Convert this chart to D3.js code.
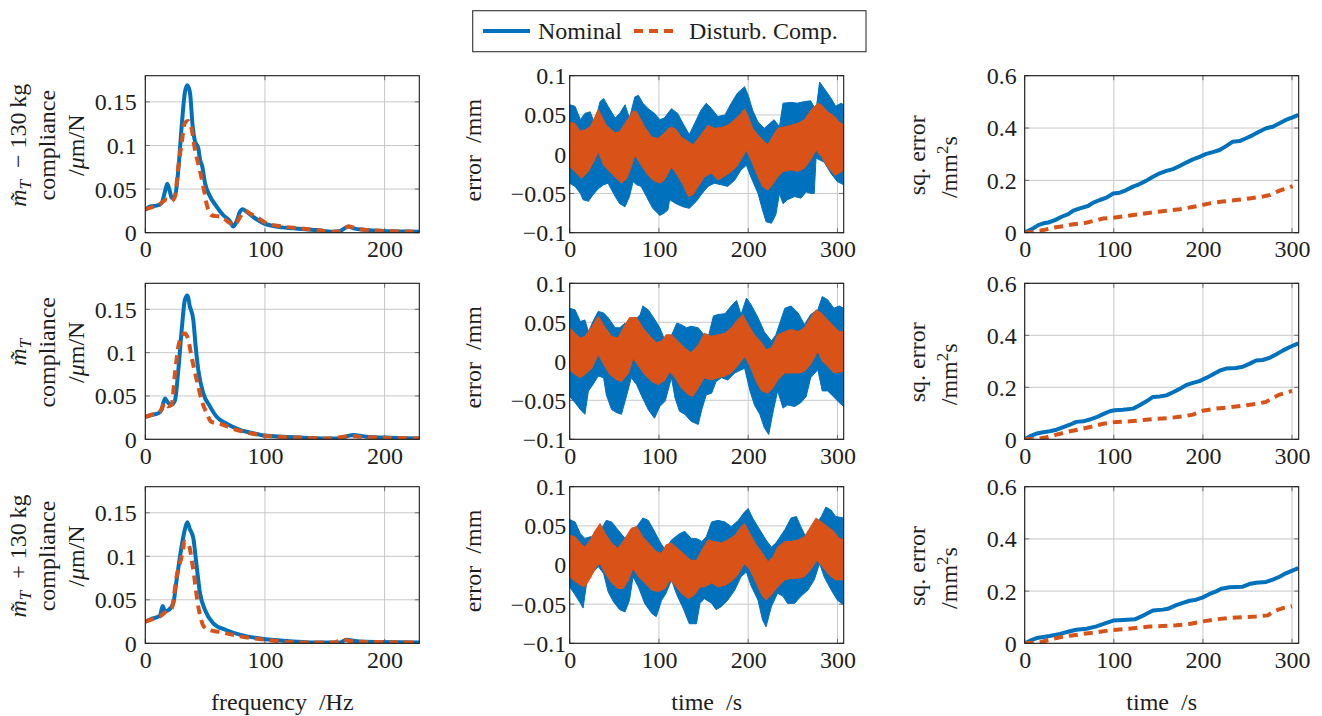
<!DOCTYPE html>
<html>
<head>
<meta charset="utf-8">
<script src="https://cdn.jsdelivr.net/npm/d3@7"></script>
<style>
body { margin: 0; background: #fff; }
</style>
</head>
<body>
<svg id="chart" width="1322" height="716" font-family="Liberation Serif"></svg>
<script>
// ---- data ----
var seriesNames = ['Nominal', 'Disturb. Comp.'];
var rowMass = ['\u2212 130', '', '+ 130'];

// compliance  [frequency Hz, um/N]
var compNom1 = [[0,0.026],[4,0.030],[9.5,0.031],[13.6,0.034],[16.4,0.047],[18.4,0.056],[20.6,0.047],[22,0.040],[24.8,0.042],[27.6,0.072],[30.4,0.122],[33.1,0.161],[35.1,0.169],[37.3,0.161],[39.6,0.122],[41.5,0.105],[44.3,0.097],[45.7,0.084],[47.6,0.076],[49.9,0.057],[54,0.042],[59.6,0.030],[65.2,0.020],[70.8,0.013],[73.5,0.007],[76.3,0.013],[79.1,0.024],[81.3,0.027],[84.7,0.024],[90.3,0.018],[98.6,0.011],[109.7,0.007],[123.7,0.005],[143,0.003],[157,0.001],[162.7,0.002],[169.6,0.007],[173.8,0.005],[185,0.003],[199,0.002],[213,0.0015],[229,0.001]];
var compDc1 = [[0,0.027],[5.3,0.029],[12.3,0.033],[17.8,0.038],[22,0.036],[24.8,0.042],[27.6,0.076],[30.4,0.103],[33.1,0.126],[35.9,0.128],[38.7,0.119],[41.5,0.095],[44.8,0.076],[48.5,0.053],[51.8,0.030],[55.4,0.020],[59.6,0.019],[63.8,0.018],[70.8,0.011],[75,0.009],[79.1,0.018],[83.3,0.025],[87.5,0.022],[93,0.018],[101,0.011],[115,0.007],[129,0.005],[143,0.003],[157,0.001],[165.5,0.003],[169.6,0.007],[179,0.004],[199,0.002],[229,0.001]];
var compNom2 = [[0,0.026],[5.3,0.028],[10.9,0.030],[13.6,0.034],[16.4,0.047],[19.2,0.042],[22,0.040],[24.8,0.045],[27.6,0.080],[30.4,0.126],[33.1,0.161],[35.1,0.166],[37.3,0.153],[40.1,0.138],[42.1,0.107],[44.3,0.080],[48.5,0.053],[54,0.038],[59.6,0.026],[68,0.018],[79.1,0.011],[90.3,0.007],[101.4,0.004],[115,0.003],[129,0.002],[151.5,0.001],[162.7,0.001],[169.6,0.004],[173.8,0.005],[185,0.003],[199,0.002],[229,0.001]];
var compDc2 = [[0,0.026],[6.7,0.029],[12.3,0.032],[16.4,0.042],[19.2,0.038],[22,0.040],[24.8,0.076],[27.6,0.107],[30.4,0.119],[33.1,0.122],[35.9,0.115],[38.7,0.095],[42.9,0.069],[47.1,0.045],[51.3,0.030],[55.4,0.020],[62.4,0.018],[73.5,0.012],[84.7,0.008],[95.8,0.005],[109.7,0.003],[129,0.002],[151.5,0.001],[165.5,0.003],[169.6,0.004],[179,0.003],[229,0.001]];
var compNom3 = [[0,0.025],[5.3,0.028],[12.3,0.032],[14.5,0.043],[16.4,0.037],[19.2,0.038],[23.4,0.046],[26.2,0.073],[30.4,0.112],[33.1,0.131],[35.1,0.139],[37.3,0.131],[40.1,0.121],[42.9,0.089],[45.7,0.058],[50,0.038],[56.8,0.023],[68,0.015],[79,0.010],[93,0.006],[115,0.003],[143,0.001],[162.7,0.001],[168,0.004],[179,0.002],[229,0.001]];
var compDc3 = [[0,0.025],[6.7,0.028],[12.3,0.031],[17.8,0.037],[22,0.040],[26.2,0.077],[30.4,0.100],[33.1,0.117],[35.9,0.115],[39.6,0.089],[44.3,0.042],[49,0.019],[54,0.015],[62.4,0.013],[79,0.008],[101,0.004],[129,0.001],[157,0.001],[165.5,0.004],[174,0.002],[229,0.001]];

// tracking error envelopes  [time s, mm]  (upper / lower edge of the oscillating trace)
var errNomHi1 = [[0,0.063],[6,0.061],[12,0.044],[17,0.052],[23,0.054],[28,0.039],[34,0.067],[38,0.071],[43,0.061],[51,0.046],[56,0.052],[62,0.063],[67,0.046],[73,0.073],[77,0.075],[82,0.065],[88,0.058],[95,0.052],[101,0.044],[106,0.046],[114,0.058],[121,0.052],[127,0.039],[134,0.025],[142,0.044],[147,0.056],[153,0.065],[159,0.058],[166,0.048],[174,0.050],[181,0.065],[188,0.078],[196,0.086],[200,0.075],[205,0.056],[211,0.041],[218,0.033],[224,0.039],[229,0.044],[235,0.035],[239,0.065],[248,0.066],[255,0.065],[263,0.067],[270,0.068],[276,0.056],[280,0.092],[285,0.084],[293,0.071],[298,0.061],[304,0.065],[307,0.063]];
var errNomLo1 = [[0,-0.037],[6,-0.041],[12,-0.050],[15,-0.058],[21,-0.060],[26,-0.052],[32,-0.044],[38,-0.039],[43,-0.037],[51,-0.054],[56,-0.063],[62,-0.067],[67,-0.054],[71,-0.035],[75,-0.039],[80,-0.041],[86,-0.054],[93,-0.069],[101,-0.078],[106,-0.075],[110,-0.071],[112,-0.058],[119,-0.063],[127,-0.067],[134,-0.069],[142,-0.060],[147,-0.052],[155,-0.041],[162,-0.037],[170,-0.039],[177,-0.041],[185,-0.033],[192,-0.020],[198,-0.014],[203,-0.029],[211,-0.050],[216,-0.071],[220,-0.086],[226,-0.088],[231,-0.077],[235,-0.050],[239,-0.063],[244,-0.058],[252,-0.054],[259,-0.056],[265,-0.048],[270,-0.050],[274,-0.050],[276,-0.005],[285,-0.010],[293,-0.025],[300,-0.035],[307,-0.039]];
var errDcHi1 = [[0,0.041],[6,0.039],[12,0.029],[17,0.031],[23,0.035],[32,0.057],[41,0.037],[51,0.027],[56,0.029],[71,0.055],[75,0.054],[84,0.035],[92,0.022],[99,0.020],[106,0.027],[112,0.034],[118,0.033],[125,0.022],[133,0.016],[138,0.012],[144,0.020],[151,0.031],[155,0.037],[162,0.033],[170,0.034],[177,0.037],[185,0.044],[192,0.052],[196,0.058],[200,0.048],[205,0.033],[213,0.022],[218,0.016],[222,0.012],[227,0.022],[233,0.033],[241,0.035],[248,0.037],[255,0.039],[263,0.044],[270,0.056],[278,0.065],[282,0.063],[289,0.054],[297,0.048],[302,0.041],[307,0.037]];
var errDcLo1 = [[0,-0.016],[6,-0.022],[13,-0.031],[21,-0.022],[28,-0.007],[32,0.003],[38,-0.014],[43,-0.020],[51,-0.029],[58,-0.037],[64,-0.031],[69,-0.016],[73,-0.001],[79,-0.012],[86,-0.024],[93,-0.033],[101,-0.037],[106,-0.033],[114,-0.016],[119,-0.024],[127,-0.039],[133,-0.054],[138,-0.052],[144,-0.041],[151,-0.029],[159,-0.024],[166,-0.033],[172,-0.029],[179,-0.024],[187,-0.016],[194,-0.003],[198,0.005],[203,-0.007],[211,-0.029],[216,-0.041],[222,-0.046],[227,-0.039],[233,-0.029],[239,-0.022],[248,-0.020],[255,-0.022],[263,-0.018],[270,-0.007],[276,0.005],[282,-0.003],[289,-0.016],[297,-0.027],[302,-0.024],[307,-0.020]];

var errNomHi2 = [[0,0.068],[6,0.066],[12,0.051],[17,0.053],[21,0.038],[26,0.051],[32,0.064],[38,0.062],[43,0.056],[51,0.043],[56,0.043],[62,0.049],[67,0.043],[73,0.053],[79,0.060],[82,0.071],[88,0.066],[94,0.056],[101,0.043],[107,0.026],[112,0.028],[120,0.049],[125,0.047],[131,0.043],[136,0.045],[144,0.043],[149,0.036],[155,0.030],[161,0.058],[166,0.060],[174,0.061],[181,0.071],[187,0.078],[192,0.060],[198,0.081],[203,0.073],[211,0.056],[218,0.038],[226,0.026],[231,0.034],[241,0.068],[248,0.071],[256,0.062],[263,0.047],[270,0.060],[278,0.066],[283,0.083],[289,0.079],[296,0.068],[302,0.071],[307,0.068]];
var errNomLo2 = [[0,-0.045],[6,-0.053],[12,-0.062],[17,-0.068],[21,-0.038],[26,-0.030],[32,-0.019],[38,-0.021],[41,-0.043],[47,-0.062],[53,-0.066],[58,-0.068],[64,-0.043],[69,-0.021],[75,-0.030],[80,-0.043],[88,-0.062],[95,-0.073],[101,-0.058],[107,-0.051],[114,-0.021],[118,-0.047],[123,-0.064],[129,-0.068],[136,-0.077],[144,-0.081],[148,-0.062],[153,-0.043],[159,-0.041],[164,-0.026],[170,-0.021],[177,-0.024],[185,-0.015],[192,-0.011],[196,-0.009],[202,-0.038],[207,-0.056],[213,-0.068],[218,-0.085],[223,-0.094],[228,-0.064],[233,-0.038],[239,-0.060],[244,-0.056],[252,-0.058],[259,-0.053],[265,-0.045],[270,-0.021],[278,-0.011],[283,-0.038],[289,-0.038],[297,-0.047],[302,-0.053],[307,-0.058]];
var errDcHi2 = [[0,0.043],[6,0.036],[12,0.030],[17,0.032],[25,0.045],[32,0.058],[40,0.043],[47,0.032],[54,0.030],[62,0.047],[67,0.056],[75,0.056],[82,0.043],[90,0.032],[97,0.024],[103,0.026],[108,0.034],[114,0.034],[121,0.026],[129,0.017],[136,0.011],[144,0.021],[151,0.036],[159,0.032],[166,0.034],[174,0.036],[181,0.043],[188,0.053],[194,0.060],[200,0.047],[207,0.034],[215,0.024],[220,0.015],[226,0.017],[233,0.034],[241,0.038],[248,0.041],[256,0.038],[263,0.043],[270,0.056],[276,0.066],[282,0.062],[289,0.053],[296,0.045],[302,0.038],[307,0.038]];
var errDcLo2 = [[0,-0.011],[6,-0.017],[12,-0.021],[17,-0.017],[25,-0.009],[32,0.009],[38,-0.004],[45,-0.017],[53,-0.024],[58,-0.026],[66,-0.015],[71,0.004],[77,-0.006],[84,-0.017],[92,-0.026],[99,-0.030],[107,-0.024],[112,-0.013],[118,-0.021],[125,-0.034],[133,-0.043],[138,-0.045],[144,-0.034],[151,-0.021],[159,-0.024],[166,-0.021],[174,-0.019],[181,-0.015],[188,-0.006],[196,0.006],[202,-0.006],[209,-0.026],[215,-0.038],[222,-0.041],[228,-0.034],[233,-0.024],[241,-0.015],[248,-0.015],[256,-0.015],[263,-0.013],[270,-0.004],[278,0.013],[283,0.000],[289,-0.006],[296,-0.015],[307,-0.013]];

var errNomHi3 = [[0,0.058],[6,0.055],[12,0.040],[17,0.034],[23,0.036],[28,0.036],[34,0.043],[41,0.057],[47,0.055],[54,0.045],[62,0.034],[69,0.045],[75,0.049],[82,0.060],[88,0.057],[94,0.045],[101,0.030],[107,0.019],[114,0.032],[123,0.040],[129,0.043],[136,0.034],[142,0.034],[148,0.030],[153,0.036],[159,0.055],[166,0.057],[174,0.055],[181,0.049],[189,0.057],[196,0.068],[200,0.072],[205,0.060],[213,0.045],[220,0.032],[226,0.023],[231,0.028],[241,0.045],[248,0.060],[254,0.062],[259,0.049],[267,0.030],[274,0.049],[282,0.062],[287,0.074],[293,0.070],[298,0.062],[307,0.060]];
var errNomLo3 = [[0,-0.028],[6,-0.038],[12,-0.049],[15,-0.055],[19,-0.023],[25,-0.011],[32,-0.002],[38,-0.011],[43,-0.034],[49,-0.047],[56,-0.057],[62,-0.060],[67,-0.045],[71,-0.015],[77,-0.028],[84,-0.049],[92,-0.062],[97,-0.066],[103,-0.045],[108,-0.036],[114,-0.019],[120,-0.038],[127,-0.055],[134,-0.075],[142,-0.075],[146,-0.049],[151,-0.043],[159,-0.049],[164,-0.057],[170,-0.053],[177,-0.045],[185,-0.032],[192,-0.015],[198,-0.009],[203,-0.026],[211,-0.045],[216,-0.070],[220,-0.079],[226,-0.053],[233,-0.036],[239,-0.040],[244,-0.049],[252,-0.049],[259,-0.040],[267,-0.032],[274,-0.019],[280,0.002],[285,-0.015],[293,-0.032],[300,-0.045],[307,-0.051]];
var errDcHi3 = [[0,0.038],[6,0.036],[12,0.028],[17,0.023],[23,0.032],[28,0.043],[34,0.053],[40,0.040],[47,0.028],[54,0.021],[62,0.034],[69,0.047],[75,0.049],[82,0.036],[90,0.026],[97,0.017],[103,0.015],[108,0.026],[114,0.028],[121,0.021],[129,0.013],[136,0.006],[142,0.006],[148,0.019],[155,0.032],[162,0.030],[170,0.028],[177,0.032],[185,0.038],[192,0.049],[196,0.053],[202,0.040],[209,0.026],[216,0.015],[222,0.004],[228,0.011],[233,0.023],[241,0.030],[248,0.030],[256,0.032],[263,0.036],[270,0.049],[276,0.060],[282,0.055],[289,0.049],[296,0.043],[302,0.034],[307,0.032]];
var errDcLo3 = [[0,-0.015],[6,-0.021],[12,-0.026],[17,-0.028],[23,-0.017],[30,-0.002],[34,0.002],[40,-0.011],[47,-0.023],[54,-0.030],[60,-0.030],[66,-0.019],[71,-0.004],[77,-0.015],[84,-0.023],[92,-0.032],[99,-0.034],[107,-0.030],[112,-0.019],[118,-0.026],[125,-0.036],[133,-0.043],[140,-0.038],[146,-0.028],[151,-0.028],[159,-0.023],[166,-0.028],[174,-0.026],[181,-0.021],[188,-0.013],[196,0.002],[202,-0.006],[209,-0.023],[215,-0.038],[220,-0.045],[226,-0.038],[233,-0.028],[241,-0.019],[248,-0.017],[256,-0.017],[263,-0.015],[270,-0.006],[277,0.006],[283,-0.002],[291,-0.013],[298,-0.019],[307,-0.019]];

// accumulated squared error  [time s, mm^2 s]
var sqNom1 = [[0,0],[9.7,0.017],[15.3,0.029],[21,0.036],[26.5,0.039],[34,0.048],[41.4,0.061],[48.9,0.071],[54.5,0.084],[62,0.093],[71,0.102],[77,0.115],[84.3,0.125],[91.8,0.134],[99.3,0.150],[106.7,0.153],[114,0.163],[121.6,0.176],[129,0.186],[136.6,0.199],[144,0.214],[151.5,0.227],[159,0.236],[166.4,0.243],[173.9,0.255],[181.3,0.268],[188.8,0.280],[196.3,0.290],[203.7,0.301],[211.2,0.308],[218.7,0.316],[226,0.331],[233.6,0.348],[241,0.350],[248.5,0.361],[256,0.373],[263,0.386],[271,0.399],[278.4,0.405],[286,0.418],[293,0.431],[300.7,0.441],[307,0.450]];
var sqDc1 = [[0,0],[9.7,0.003],[21,0.010],[32,0.019],[43,0.025],[54.5,0.032],[66,0.036],[77,0.045],[88,0.054],[99,0.057],[114,0.064],[129,0.071],[144,0.078],[159,0.084],[174,0.090],[185,0.096],[196,0.103],[207.5,0.112],[222,0.119],[237,0.125],[252,0.131],[267,0.138],[275,0.144],[286,0.161],[297,0.173],[300.7,0.178]];
var sqNom2 = [[0,0],[6,0.012],[13.4,0.022],[20.9,0.027],[28,0.031],[35.8,0.037],[43.3,0.047],[50.7,0.056],[58,0.067],[65.7,0.069],[73,0.076],[80.6,0.085],[88,0.097],[95.5,0.108],[101,0.112],[110.4,0.114],[121.6,0.118],[129,0.131],[136.6,0.146],[144,0.163],[151.5,0.165],[159,0.169],[166.4,0.181],[174,0.194],[181,0.208],[188.8,0.217],[196,0.224],[203.7,0.236],[211,0.249],[218.7,0.264],[226,0.272],[237,0.274],[244.8,0.279],[252,0.290],[259.7,0.303],[267,0.305],[274.6,0.313],[282,0.326],[289.6,0.341],[297,0.354],[307,0.369]];
var sqDc2 = [[0,0],[13.4,0.001],[24.6,0.008],[35.8,0.018],[47,0.028],[58,0.036],[73,0.047],[88,0.060],[103,0.067],[118,0.069],[133,0.074],[147.8,0.079],[162.7,0.082],[177.6,0.088],[188.8,0.095],[200,0.110],[214.9,0.118],[230,0.123],[244.8,0.129],[259.7,0.136],[270.9,0.144],[278.4,0.159],[286,0.172],[300,0.186]];
var sqNom3 = [[0,0],[6,0.010],[13.4,0.020],[20.9,0.024],[28,0.028],[39.6,0.036],[50.7,0.046],[58,0.052],[69.4,0.056],[80.6,0.065],[91.8,0.078],[99.3,0.087],[110.4,0.089],[123.5,0.092],[131,0.103],[138.4,0.116],[144,0.126],[155,0.129],[160.8,0.132],[170,0.146],[177.6,0.155],[185,0.163],[192.5,0.167],[200,0.176],[207.5,0.189],[214.9,0.199],[220.5,0.209],[230,0.215],[244.8,0.217],[252,0.227],[259.7,0.232],[270.9,0.235],[278.4,0.244],[286,0.255],[293,0.268],[307,0.288]];
var sqDc3 = [[0,0],[17,0.003],[28,0.014],[39.6,0.023],[50.7,0.029],[65.7,0.036],[80.6,0.042],[95.5,0.050],[110.4,0.054],[125,0.059],[140,0.064],[155,0.066],[170,0.069],[185,0.074],[200,0.084],[214.9,0.092],[230,0.097],[244.8,0.100],[259.7,0.103],[272.8,0.107],[280,0.123],[289.6,0.135],[300,0.142]];

var compNom = [compNom1, compNom2, compNom3], compDc = [compDc1, compDc2, compDc3];
var errNom = [[errNomHi1, errNomLo1], [errNomHi2, errNomLo2], [errNomHi3, errNomLo3]];
var errDc = [[errDcHi1, errDcLo1], [errDcHi2, errDcLo2], [errDcHi3, errDcLo3]];
var sqNom = [sqNom1, sqNom2, sqNom3], sqDc = [sqDc1, sqDc2, sqDc3];

var freqTicks = [0, 100, 200], compTicks = [0, 0.05, 0.1, 0.15];
var timeTicks = [0, 100, 200, 300], errTicks = [-0.1, -0.05, 0, 0.05, 0.1], sqTicks = [0, 0.2, 0.4, 0.6];

// ---- layout ----
var BLUE = '#0072bd', ORANGE = '#d95319';
var FONT = 'Liberation Serif';
var FS = 24;
var svg = d3.select('#chart');
var plotW = 274;
var rowTop = [75.7, 283.3, 486.7], rowH = [157, 156, 156.6];
var cols = [
    {left: 145.3, xDom: [0, 229], xTicks: freqTicks, yDom: [0, 0.18], yTicks: compTicks, pad: 8.5},
    {left: 569.7, xDom: [0, 307], xTicks: timeTicks, yDom: [-0.1, 0.1], yTicks: errTicks, pad: 3.5},
    {left: 1024.7, xDom: [0, 307.5], xTicks: timeTicks, yDom: [0, 0.6], yTicks: sqTicks, pad: 8}
];

var fmt = function(v){ return (v < 0 ? '\u2212' : '') + String(Math.abs(v)); };

function panel(ci, ri, draw){
    var c = cols[ci];
    var top = rowTop[ri], h = rowH[ri];
    var x = d3.scaleLinear().domain(c.xDom).range([0, plotW]);
    var y = d3.scaleLinear().domain(c.yDom).range([h, 0]);
    var g = svg.append('g').attr('transform', 'translate(' + c.left + ',' + top + ')');
    var id = 'clip' + ci + ri;
    g.append('clipPath').attr('id', id).append('rect').attr('width', plotW).attr('height', h);

    // grid
    var grid = g.append('g');
    grid.selectAll('.gx').data(c.xTicks).enter().append('line')
        .attr('x1', function(d){ return x(d); }).attr('x2', function(d){ return x(d); })
        .attr('y1', 0).attr('y2', h).attr('stroke', '#c8c8c8').attr('stroke-width', 1);
    grid.selectAll('.gy').data(c.yTicks).enter().append('line')
        .attr('y1', function(d){ return y(d); }).attr('y2', function(d){ return y(d); })
        .attr('x1', 0).attr('x2', plotW).attr('stroke', '#c8c8c8').attr('stroke-width', 1);
    // inner tick marks on all four sides
    var tk = 4.5;
    c.xTicks.forEach(function(d){
        grid.append('line').attr('x1', x(d)).attr('x2', x(d)).attr('y1', h).attr('y2', h - tk).attr('stroke', '#6e6e6e');
        grid.append('line').attr('x1', x(d)).attr('x2', x(d)).attr('y1', 0).attr('y2', tk).attr('stroke', '#6e6e6e');
    });
    c.yTicks.forEach(function(d){
        grid.append('line').attr('y1', y(d)).attr('y2', y(d)).attr('x1', 0).attr('x2', tk).attr('stroke', '#6e6e6e');
        grid.append('line').attr('y1', y(d)).attr('y2', y(d)).attr('x1', plotW).attr('x2', plotW - tk).attr('stroke', '#6e6e6e');
    });

    var data = g.append('g').attr('clip-path', 'url(#' + id + ')');
    draw(data, x, y);

    g.append('rect').attr('width', plotW).attr('height', h)
        .attr('fill', 'none').attr('stroke', '#1a1a1a').attr('stroke-width', 1.1);

    // axes (labels only)
    var ax = g.append('g').attr('transform', 'translate(0,' + h + ')')
        .call(d3.axisBottom(x).tickValues(c.xTicks).tickFormat(fmt).tickSize(0).tickPadding(7.5));
    var ay = g.append('g')
        .call(d3.axisLeft(y).tickValues(c.yTicks).tickFormat(fmt).tickSize(0).tickPadding(c.pad));
    [ax, ay].forEach(function(a){
        a.attr('font-family', FONT).attr('font-size', FS);
        a.select('.domain').remove();
        a.selectAll('text').attr('fill', '#1e1e1e');
    });
    ay.selectAll('text').attr('dy', '0.33em');
    return g;
}

var compLine = function(x, y){
    return d3.line().x(function(d){ return x(d[0]); }).y(function(d){ return y(d[1]); }).curve(d3.curveMonotoneX);
};
var sqLine = function(x, y){
    return d3.line().x(function(d){ return x(d[0]); }).y(function(d){ return y(d[1]); });
};
function band(sel, x, y, hi, lo, color){
    var pts = hi.concat(lo.slice().reverse());
    var ln = d3.line().x(function(d){ return x(d[0]); }).y(function(d){ return y(d[1]); });
    sel.append('path').attr('d', ln(pts) + 'Z').attr('fill', color).attr('stroke', color)
        .attr('stroke-width', 1).attr('stroke-linejoin', 'miter');
}

for (var r = 0; r < 3; r++) {
    (function(r){
        panel(0, r, function(s, x, y){
            s.append('path').attr('d', compLine(x, y)(compNom[r])).attr('fill', 'none')
                .attr('stroke', BLUE).attr('stroke-width', 4).attr('stroke-linejoin', 'round');
            s.append('path').attr('d', compLine(x, y)(compDc[r])).attr('fill', 'none')
                .attr('stroke', ORANGE).attr('stroke-width', 4).attr('stroke-dasharray', '9,6');
        });
        panel(1, r, function(s, x, y){
            band(s, x, y, errNom[r][0], errNom[r][1], BLUE);
            band(s, x, y, errDc[r][0], errDc[r][1], ORANGE);
        });
        panel(2, r, function(s, x, y){
            s.append('path').attr('d', sqLine(x, y)(sqNom[r])).attr('fill', 'none')
                .attr('stroke', BLUE).attr('stroke-width', 4).attr('stroke-linejoin', 'round');
            s.append('path').attr('d', sqLine(x, y)(sqDc[r])).attr('fill', 'none')
                .attr('stroke', ORANGE).attr('stroke-width', 4).attr('stroke-dasharray', '9,6');
        });
    })(r);
}

// ---- y labels (rotated) ----
function vText(xb, yc, parts){
    var t = svg.append('text').attr('transform', 'translate(' + xb + ',' + yc + ') rotate(-90)')
        .attr('text-anchor', 'middle').attr('font-size', FS).attr('font-family', FONT).attr('fill', '#1e1e1e');
    parts.forEach(function(p){
        var ts = t.append('tspan').text(p.t);
        if (p.it) ts.attr('font-style', 'italic');
        if (p.sub) ts.attr('font-size', 17).attr('dy', 5);
        if (p.up) ts.attr('font-size', 17).attr('dy', -9);
        if (p.back) ts.attr('dy', p.back);
    });
    return t;
}
for (var i = 0; i < 3; i++) {
    var cy = rowTop[i] + rowH[i] / 2;
    var first = [{t: 'm\u0303', it: true}, {t: 'T', it: true, sub: true}];
    if (rowMass[i]) first.push({t: '\u2002' + rowMass[i] + '\u2009kg', back: -5});
    vText(26, cy - 9, first);
    vText(55, cy - 9, [{t: 'compliance'}]);
    vText(84, cy - 9, [{t: '/'}, {t: '\u03bc', it: true}, {t: 'm/N'}]);
    vText(481, cy - 4, [{t: 'error\u2002/mm'}]);
    vText(925, cy + 1, [{t: 'sq. error'}]);
    vText(957, cy + 13, [{t: '/mm'}, {t: '2', up: true}, {t: 's', back: 9}]);
}

// ---- x labels ----
var xLabels = ['frequency\u2002/Hz', 'time\u2002/s', 'time\u2002/s'];
xLabels.forEach(function(l, i){
    svg.append('text').attr('x', cols[i].left + plotW / 2).attr('y', 710)
        .attr('text-anchor', 'middle').attr('font-size', FS).attr('font-family', FONT)
        .attr('fill', '#1e1e1e').text(l);
});

// ---- legend ----
var lg = svg.append('g');
lg.append('rect').attr('x', 472.7).attr('y', 10.7).attr('width', 393.3).attr('height', 41)
    .attr('fill', '#fff').attr('stroke', '#333').attr('stroke-width', 1.1);
lg.append('line').attr('x1', 483).attr('x2', 530).attr('y1', 31).attr('y2', 31)
    .attr('stroke', BLUE).attr('stroke-width', 4);
lg.append('text').attr('x', 538).attr('y', 38.5).attr('font-size', FS).attr('font-family', FONT)
    .attr('fill', '#1e1e1e').text(seriesNames[0]);
lg.append('line').attr('x1', 634).attr('x2', 677).attr('y1', 31).attr('y2', 31)
    .attr('stroke', ORANGE).attr('stroke-width', 4).attr('stroke-dasharray', '9,6');
lg.append('text').attr('x', 689).attr('y', 38.5).attr('font-size', FS).attr('font-family', FONT)
    .attr('fill', '#1e1e1e').text(seriesNames[1]);
</script>
</body>
</html>
